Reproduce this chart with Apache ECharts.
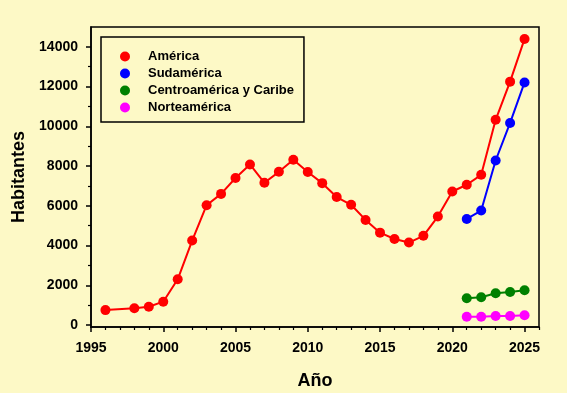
<!DOCTYPE html>
<html>
<head>
<meta charset="utf-8">
<script src="https://cdn.jsdelivr.net/npm/echarts@6/dist/echarts.min.js"></script>
<style>
html,body{margin:0;padding:0;background:#FDF9C6;}
#c{width:567px;height:393px;}
</style>
</head>
<body>
<div id="c"></div>
<script>
const years = [1996,1998,1999,2000,2001,2002,2003,2004,2005,2006,2007,2008,2009,2010,2011,2012,2013,2014,2015,2016,2017,2018,2019,2020,2021,2022,2023,2024,2025];
const america = [750,840,920,1175,2300,4250,6030,6600,7400,8080,7160,7710,8320,7700,7140,6440,6050,5290,4650,4330,4150,4490,5460,6720,7060,7560,10330,12250,14400];
const subYears = [2021,2022,2023,2024,2025];
const sudamerica = [5340,5760,8280,10170,12210];
const centroamerica = [1345,1395,1600,1660,1750];
const norteamerica = [420,420,454,450,490];
const seriesNames = ['América','Sudamérica','Centroamérica y Caribe','Norteamérica'];
const seriesColors = ['#FF0000','#0000FF','#008000','#FF00FF'];
const xMajorTicks = [1995,2000,2005,2010,2015,2020,2025];
const xMinorTicks = [1996,1997,1998,1999,2001,2002,2003,2004,2006,2007,2008,2009,2011,2012,2013,2014,2016,2017,2018,2019,2021,2022,2023,2024,2026];
const yMajorTicks = [0,2000,4000,6000,8000,10000,12000,14000];
const yMinorTicks = [1000,3000,5000,7000,9000,11000,13000];

const FONT = 'Liberation Sans, Arial, sans-serif';
const pair = (xs, ys) => xs.map((x, i) => [x, ys[i]]);
const plain = v => String(v);

const chart = echarts.init(document.getElementById('c'), null, {renderer: 'canvas'});
const xBase = {type: 'value', min: 1995, max: 2026, gridIndex: 0, position: 'bottom',
  axisLine: {onZero: false, lineStyle: {color: '#000', width: 1.5}},
  splitLine: {show: false}};
const yBase = {type: 'value', min: -100, max: 15000, gridIndex: 0, position: 'left',
  axisLine: {onZero: false, lineStyle: {color: '#000', width: 1.5}},
  splitLine: {show: false}};

const seriesList = [
  pair(years, america), pair(subYears, sudamerica), pair(subYears, centroamerica), pair(subYears, norteamerica)
].map((d, i) => ({
  name: seriesNames[i], type: 'line', data: d, xAxisIndex: 0, yAxisIndex: 0,
  symbol: 'circle', symbolSize: 10, showSymbol: true,
  itemStyle: {color: seriesColors[i]},
  lineStyle: {color: seriesColors[i], width: 2},
  emphasis: {disabled: true}, animation: false, z: 5 + (4 - i)
}));

chart.setOption({
  backgroundColor: '#FDF9C6',
  animation: false,
  grid: {left: 91, right: 28, top: 27, bottom: 66, containLabel: false, outerBoundsMode: 'none',
    show: true, borderColor: '#000', borderWidth: 1.5, backgroundColor: 'transparent'},
  legend: {
    show: true, orient: 'vertical', left: 101, top: 37,
    data: seriesNames.map(n => ({name: n, icon: 'circle'})),
    itemWidth: 36, itemHeight: 10, itemGap: 4,
    padding: [13, 10, 8, 19],
    borderColor: '#000', borderWidth: 1.5, backgroundColor: 'transparent',
    selectedMode: false,
    textStyle: {fontFamily: FONT, fontWeight: 'bold', fontSize: 13, color: '#000'}
  },
  xAxis: [
    Object.assign({}, xBase, {
      name: 'Año', nameLocation: 'middle', nameGap: 45,
      nameTextStyle: {fontFamily: FONT, fontWeight: 'bold', fontSize: 18, color: '#000'},
      axisTick: {show: true, inside: false, length: 5, customValues: xMajorTicks, lineStyle: {color: '#000', width: 1.5}},
      axisLabel: {show: true, margin: 14, customValues: xMajorTicks, formatter: plain, fontFamily: FONT, fontWeight: 'bold', fontSize: 14, color: '#000'}
    }),
    Object.assign({}, xBase, {
      axisLine: {show: false, onZero: false},
      axisTick: {show: true, inside: false, length: 3, customValues: xMinorTicks, lineStyle: {color: '#000', width: 1.2}},
      axisLabel: {show: false}
    })
  ],
  yAxis: [
    Object.assign({}, yBase, {
      name: 'Habitantes', nameLocation: 'middle', nameGap: 62, nameRotate: 90,
      nameTextStyle: {fontFamily: FONT, fontWeight: 'bold', fontSize: 18, color: '#000'},
      axisTick: {show: true, inside: false, length: 5, customValues: yMajorTicks, lineStyle: {color: '#000', width: 1.5}},
      axisLabel: {show: true, margin: 13, customValues: yMajorTicks, formatter: plain, fontFamily: FONT, fontWeight: 'bold', fontSize: 14, color: '#000'}
    }),
    Object.assign({}, yBase, {
      axisLine: {show: false, onZero: false},
      axisTick: {show: true, inside: false, length: 3, customValues: yMinorTicks, lineStyle: {color: '#000', width: 1.2}},
      axisLabel: {show: false}
    })
  ],
  series: seriesList
});
</script>
</body>
</html>
